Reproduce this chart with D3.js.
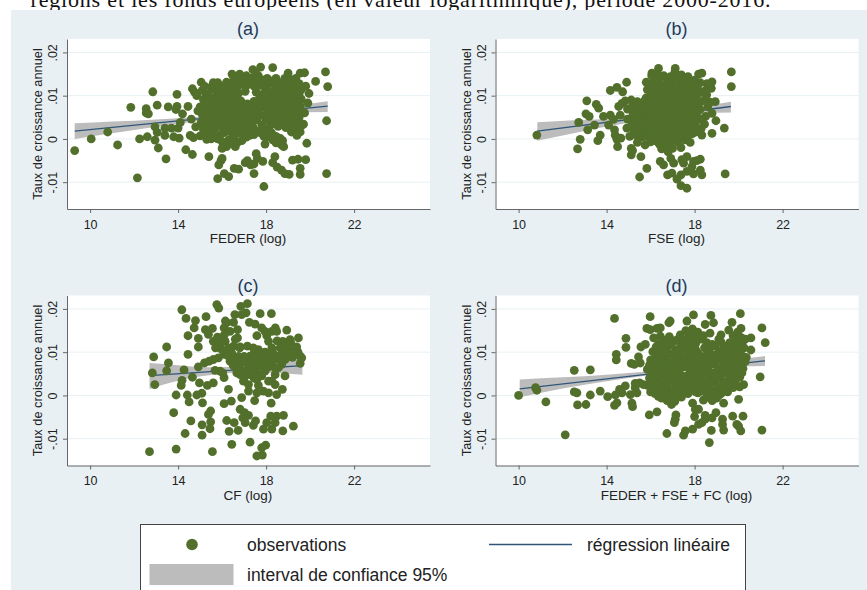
<!DOCTYPE html>
<html>
<head>
<meta charset="utf-8">
<script src="https://d3js.org/d3.v7.min.js"></script>
<style>
html, body { margin: 0; padding: 0; background: #fff; }
svg { display: block; }
text { font-family: "Liberation Sans", Arial, sans-serif; }
</style>
</head>
<body>
<svg width="867" height="590"></svg>
<script>
const svg = d3.select("svg");

// x = log of funds, y = annual growth rate in thousandths
const pointsA = [[9.3,-2.7],[10.05,0],[10.8,1.6],[11.25,-1.4],[11.85,7.3],[12.15,-9],[12.25,0],[12.6,0.5],[12.55,7],[12.55,6],[12.65,5.8],[12.85,10.9],[13.05,7.8],[12.95,2.8],[13.05,1.5],[12.95,-0.3],[13.1,-2.1],[13.45,-4.6],[13.4,2.5],[13.4,0.8],[13.55,7.4],[13.7,2.5],[13.8,0.5],[13.95,10.3],[13.95,7.5],[13.9,6.8],[14,2.5],[14.1,3.8],[14.05,0.2],[14.35,-2.5],[14.2,5.8],[14.45,7.5],[14.65,-3.6],[14.55,0.8],[14.7,0.3],[14.65,11.6],[14.75,10.8],[14.85,10],[14.9,6.5],[14.6,4.6],[14.8,2.8],
  [15.4,-4.1],[15.8,-9.2],[15.85,-6],[15.95,-5],[16,-4.5],[16.1,-8],[16.3,-8.7],[16.55,-6.8],[16.75,-7],[17.05,-5.5],[17.15,-5],[17.3,-6],[17.45,-8],[17.45,-5.8],[17.55,-3.4],[17.6,-4.5],[17.85,-5.2],[17.9,-11],[18.3,-5.5],[18.4,-4.1],[18.5,-6.5],[18.7,-7.2],[18.85,-8],[19.05,-8.2],[19.2,-4.9],[19.45,-4.7],[19.55,-6.8],[19.55,-8.2],[19.8,-4.8],[20.75,-8],[19.85,-1],[20.75,4.2],[20.8,12.1],[20.7,15.5],[20.25,13.3],[19.95,10.5],[19.9,8.3],[19.75,15.3],[19.55,15.2],[19,15.2],
  [15.05,13.1],[15.1,11.2],[15.15,9.1],[15,7.4],[15.1,5.6],[15.05,3.8],[15.15,2.2],[15,0.7],[15.35,10.4],[15.4,8.2],[15.3,6.4],[15.45,4.7],[15.35,3],[15.4,1.2],[15.3,-0.1],[15.6,13],[15.65,11.4],[15.6,9.5],[15.7,7.3],[15.55,5.7],[15.7,3.9],[15.6,2.1],[15.65,0.3],[15.9,12.3],[15.95,10.2],[15.85,8.4],[15.95,6.5],[15.85,4.7],[16,2.9],[15.9,1],[16,-0.6],[16,-2.2],[16.2,13.1],[16.25,11],[16.15,9.2],[16.3,7.4],[16.2,5.5],[16.25,3.6],[16.15,1.6],[16.3,-0.2],[16.2,-1.8],[16.45,15],[16.5,13.4],[16.55,11.4],[16.45,9.8],[16.55,8],[16.45,6.2],[16.6,4.4],[16.5,2.4],[16.55,0.6],[16.6,-1.8],[16.8,15],[16.85,12.6],[16.75,10.6],[16.85,8.8],[16.8,6.6],[16.9,4.9],[16.75,3],[16.85,1.3],[16.9,-0.4],[17.1,14.6],[17.15,12.5],[17.05,11],[17.15,8.1],[17.05,6.4],[17.15,4.6],[17.05,2.6],[17.1,0.4],[17.4,16],[17.35,14.1],[17.45,12.2],[17.55,10.8],[17.45,8.7],[17.35,7],[17.5,5.2],[17.3,2],[17.45,1],[17.75,16.6],[17.65,14.6],[17.75,12.4],[17.7,9.4],[17.8,7.3],[17.7,5.6],[17.8,3.2],[17.75,1.4],[18.05,14],[18,11.8],[18.1,9.6],[18,8],[18.1,6.2],[18,4.4],[18.1,2],[18,0.4],[17.95,-1.2],[18.3,16.5],[18.3,13.4],[18.35,11.1],[18.25,9.2],[18.35,7.2],[18.3,5.2],[18.35,3.6],[18.25,1.4],[18.3,-0.2],[18.6,12.3],[18.55,10.4],[18.65,8.6],[18.55,6.6],[18.6,4.7],[18.55,2.9],[18.45,-0.9],[18.65,0.1],[18.7,-1.4],[18.85,14],[18.9,12],[18.85,10],[18.95,8.2],[18.85,6.2],[18.95,4.4],[18.9,2.6],[18.8,-1.8],[19.05,13.9],[19.1,13.3],[19.15,11.3],[19.05,9.4],[19.15,7.4],[19.1,5.6],[19.05,3.6],[19.15,1.6],[19.35,14],[19.35,11.8],[19.4,9.8],[19.3,8],[19.4,6],[19.3,4.4],[19.35,2.4],[19.4,0.8],[19.6,11.4],[19.6,9.2],[19.55,7.6],[19.6,3],[19.55,1.6],[19.8,12.2],[19.75,6],[19.7,3.4],
  [15.2,12.2],[15.25,9.6],[15.2,7.4],[15.2,4.8],[15.25,3.2],[15.2,1],[15.5,12],[15.5,9.2],[15.5,7],[15.55,3.6],[15.5,1.6],[15.5,0],[15.8,13],[15.8,10.8],[15.75,9],[15.8,6.2],[15.75,2.8],[15.8,0],[16.05,11.6],[16.1,8],[16.05,5.6],[16.1,3.8],[16.05,1.4],[16.1,-1.2],[16.35,12.2],[16.4,8.6],[16.35,6.6],[16.35,4.6],[16.4,1.6],[16.4,-1],[16.65,14],[16.7,12.2],[16.65,9.4],[16.65,7.2],[16.7,5.4],[16.65,3.2],[16.7,1.4],[16.7,-0.8],[16.95,13.8],[16.95,7.4],[17,5.4],[16.95,3.6],[17,1.4],[17.25,13],[17.25,7.6],[17.25,5.6],[17.25,3.4],[17.25,0.8],[17.55,15],[17.6,13.2],[17.6,8],[17.6,6.4],[17.6,4.4],[17.55,1.8],[17.9,13.6],[17.9,10.6],[17.9,8.8],[17.9,5.4],[17.9,2.4],[17.9,0.6],[18.15,12.8],[18.2,10.6],[18.2,8],[18.2,5.6],[18.2,3.2],[18.2,0.6],[18.45,14],[18.45,12],[18.45,9.6],[18.45,7.8],[18.45,5.6],[18.45,3.8],[18.45,0.6],[18.75,13],[18.75,11],[18.75,9.2],[18.75,7.2],[18.75,5.4],[18.75,3.6],[18.75,-0.4],[19,10.8],[19,8.6],[19,6.6],[19,4.8],[19,2.8],[19.25,12.6],[19.25,10.6],[19.25,8.8],[19.25,6.6],[19.25,4.8],[19.25,3],[19.5,12.8],[19.5,10.4],[19.5,8.4],[19.5,5],[19.5,3.8],[19.65,6.4],
  [15.25,5.8],[15.3,8.8],[15.45,6],[15.5,4.6],[15.4,2.4],[15.65,4.8],[15.65,6.6],[15.6,8.4],[15.9,3.6],[15.9,7.4],[15.85,5.8],[16.2,6.6],[16.15,4.6],[16.2,2.6],[16.45,3.4],[16.45,5],[16.5,7.2],[16.75,4.4],[16.8,7.8],[16.6,10.4],[17.2,6.8],[17.4,4.2],[17.4,2.8],[17.7,7.8],[18.15,7],[18.15,4.4],[18.4,4.6],[18.4,6.6],[18.7,5.2],[18.85,7.6],[19.2,7.4],[19.2,9.6],[19.45,6.8],[19,9.8]];

const pointsB = [[10.83,0.9],[12.73,3.8],[12.68,-2.3],[12.8,-0.1],[13.1,8.8],[13.06,5.8],[13.21,5.2],[13.14,2.1],[13.45,3.2],[13.53,8],[13.64,7.1],[13.6,-0.4],[13.71,0.9],[13.86,5.2],[14.17,11.2],[14.17,5.5],[14.09,3.2],[14.32,4.5],[14.47,11.9],[14.73,10.9],[14.91,13.1],[14.36,2.1],[14.39,0.9],[14.47,-0.1],[14.65,0.2],[14.5,-1.8],[14.7,8.2],[14.55,7.5],[14.62,5.5],[14.92,2.5],[15.12,9],[15.12,-2.2],[15.12,-3.7],[15.18,-2.7],[15.5,-8.8],[15.56,-4.1],[15.83,-6.8],[16.36,16.3],[16.06,15.2],[16.44,-5.2],[16.59,-6],[16.77,-8.3],[16.92,-4.5],[17.05,-5.6],[17.12,16.3],[17.2,-9.3],[17.38,-10.8],[17.65,-11.4],[16.97,-7.9],[17.38,-8.3],[17.65,-7.5],[17.5,-5.6],[17.65,-4.1],[17.42,-4.8],[17.95,-5.2],[18.26,-4.7],[18.1,-5],[17.88,-6.4],[17.95,-8.1],[18.26,-7.2],[18.33,-8.3],[19.39,-8.1],[19.67,15.5],[19.67,12.1],[19.35,2.5],[18.79,1.3],[18.97,4.2],[18.79,5.9],[18.94,8.6],[18.33,0.9],[17.8,-0.8],[17.38,-2],[18.33,15.2],[18.18,15],[18.79,13.2],[18.56,12.8],[18.76,11.7],[18.7,8.5],[18.55,10.2],[18.6,7.4],[18.5,5.2],[18.45,3.4],
  [14.85,8.8],[14.95,6.9],[14.95,4.6],[15.05,0.6],[15.15,7.4],[15.2,5.6],[15.15,3.8],[15.25,2],[15.4,8.6],[15.35,6.6],[15.45,4.8],[15.35,2.9],[15.45,1.1],[15.4,-0.8],[15.6,7.6],[15.7,5.8],[15.6,3.8],[15.7,2],[15.6,0.4],[15.75,-1.4],[15.8,13.1],[15.85,11.4],[15.8,9.5],[15.9,7.8],[15.95,6.2],[15.85,4.4],[15.95,2.8],[15.9,1],[16,-0.7],[16.05,14.6],[16.1,12.9],[16.15,11.1],[16.05,9.3],[16.2,7.4],[16.1,5.6],[16.2,3.6],[16.15,1.8],[16.2,0.2],[16.3,15],[16.35,13],[16.4,11.2],[16.3,9.4],[16.45,7.8],[16.35,6],[16.45,4.2],[16.35,2.4],[16.45,0.6],[16.4,-1.2],[16.5,-2.3],[16.6,14.6],[16.7,12.8],[16.6,11],[16.7,9],[16.6,7.2],[16.7,5.4],[16.6,3.6],[16.7,1.8],[16.65,0],[16.7,-1.7],[16.8,-3],[16.9,14.4],[16.95,12.4],[16.85,10.4],[16.95,8.4],[16.85,6.6],[16.95,4.8],[16.85,3],[16.95,1.2],[16.9,-0.6],[17,-2.2],[17.1,15.4],[17.2,13.8],[17.15,11.8],[17.25,9.9],[17.1,8],[17.2,6],[17.1,4.2],[17.2,2.4],[17.15,0.6],[17.25,-0.8],[17.4,14.8],[17.45,12.8],[17.4,10.8],[17.5,8.8],[17.4,7],[17.5,5.2],[17.4,3.4],[17.5,1.4],[17.55,-0.2],[17.7,14.4],[17.7,12.2],[17.75,10],[17.7,8],[17.8,6.2],[17.7,4.2],[17.75,2.2],[17.7,0.8],[18,13.6],[18,11.6],[18.05,9.4],[17.95,7.4],[18.05,5.4],[18,3.2],[18.05,1.6],[18.25,13],[18.3,10.8],[18.3,8.6],[18.25,6.8],[18.3,4.6],[18.3,2.4],[18.5,11.2],[18.45,9],
  [15.25,6.4],[15.3,4.6],[15.3,2.9],[15.3,1],[15.5,8],[15.5,5.8],[15.5,3],[15.5,0.4],[15.75,9],[15.75,6.8],[15.75,4.8],[15.75,3],[15.75,0.6],[16,12],[16,9.8],[16,6.8],[16,5],[16,3.4],[16,1.6],[16,0],[16.2,13.6],[16.25,12],[16.25,10],[16.25,8.4],[16.3,6.4],[16.25,4.6],[16.3,2.8],[16.3,1],[16.3,-0.6],[16.5,14.4],[16.5,12],[16.55,10],[16.5,8.4],[16.55,6.4],[16.55,4.8],[16.55,2.6],[16.55,0.8],[16.55,-1],[16.8,13.8],[16.8,11.6],[16.8,9.6],[16.8,7.6],[16.8,5.6],[16.8,3.8],[16.8,2],[16.8,0.4],[16.8,-1.4],[17.05,13.6],[17.05,10.8],[17.05,9.2],[17.05,7],[17.05,5.2],[17.05,3.2],[17.05,1.6],[17.05,-0.2],[17.3,14.6],[17.3,12],[17.3,9.8],[17.3,8],[17.3,6],[17.3,4.4],[17.3,2.6],[17.3,0.8],[17.55,13.6],[17.55,11.6],[17.6,9.6],[17.6,7.6],[17.6,6],[17.6,4.2],[17.6,2.4],[17.85,13.2],[17.85,11],[17.85,8.8],[17.85,7],[17.85,5],[17.85,3.2],[17.9,1.2],[18.15,12.4],[18.15,10.4],[18.15,8.4],[18.15,6.4],[18.15,4.4],[18.15,2.4]];

const pointsC = [[12.7,-13],[12.83,5.2],[12.89,8.9],[12.94,2.5],[13.48,11.2],[13.56,7.5],[13.48,5.7],[13.8,-4],[13.91,0.1],[13.91,-12.4],[14.17,19.8],[14.36,17.8],[14.45,13.8],[14.45,9.5],[14.27,5.9],[14.18,3.5],[14.14,2.3],[14.32,-8.8],[14.42,0.1],[14.5,-1.5],[14.58,-5.9],[14.65,4.2],[14.79,17.3],[14.73,15.6],[14.92,13.2],[14.92,11.2],[14.92,6.6],[14.97,2.9],[15.08,0.5],[14.85,0.1],[15.11,-1.7],[15.09,-6.8],[15.09,-9.2],[15.27,18.2],[15.24,15.2],[15.38,14.1],[15.56,15.5],[15.6,12.5],[15.2,7.5],[15.41,7.9],[15.6,8.3],[15.33,2.3],[15.6,2.9],[15.38,-4.4],[15.48,-3.6],[15.48,-6.1],[15.45,-7.7],[15.56,-13],[15.76,21],[15.85,20.2],[15.79,13.5],[15.91,11.8],[15.83,8.7],[15.68,5.8],[15.91,5.6],[16.09,4.1],[16.03,5.2],[16.09,-1.9],[16.42,-1.3],[16.29,1.4],[16.21,-5.8],[16.32,-8.3],[16.44,-11.3],[16.15,17.2],[16.09,15.6],[16.21,16.8],[16.58,18.7],[16.52,16.9],[16.36,14.8],[16.14,12.5],[16.29,11],[16.44,9.8],[16.59,8.3],[16.36,7.9],[16.74,6.8],[16.67,5.2],[16.89,-0.5],[16.55,-6.3],[16.73,-8.1],[16.85,20.6],[17.15,21.2],[17.09,19.1],[16.89,18.7],[16.7,15.2],[16.7,13.3],[16.52,11.4],[16.82,11.2],[16.97,5.6],[16.82,4.8],[16.97,3.3],[17.2,1],[16.82,-3.2],[17.02,-4],[17.2,-4.6],[16.94,-5.2],[17.48,-1.2],[17.27,-10.8],[17.58,-14],[17.83,-13.8],[17.8,-12.1],[17.98,-11.5],[17.73,18.9],[18.24,18.9],[17.24,16.9],[17.5,16.5],[17.8,15.6],[17.95,14.8],[17.58,13.8],[18.03,13.8],[17.15,11.4],[17.42,11],[17.65,10.6],[17.88,9.1],[17.27,9.1],[17.5,7.5],[17.12,7.5],[17.35,6.4],[17.73,6.8],[17.95,5.6],[17.58,5.2],[17.27,4.8],[17.58,3.7],[17.8,4.5],[18.11,3.3],[18.41,4.8],[18.26,3.3],[18.41,2.5],[17.2,2.5],[17.65,2.3],[17.88,1],[18.11,0.6],[17.58,0.6],[18.48,0.2],[18.74,1.4],[18.23,-1.8],[17.52,-5.9],[17.42,-6.9],[18.03,-6.3],[17.88,-7.8],[18.26,-7.8],[18.48,-4.8],[18.79,-4.6],[18.41,-6.3],[18.76,-8.2],[19.24,-7.1],[18.21,-4.8],[18.42,15.6],[18.26,14.8],[18.48,14.8],[18.94,15.1],[18.11,12.5],[18.26,11],[18.64,11],[18.76,12.5],[19.09,12.9],[19.47,13.3],[18.94,10.6],[19.24,10.2],[19.39,11.2],[19.55,9.1],[19.62,8.7],[19.55,7.4],[18.86,4.5],[18.48,9.1],[18.86,8.3],[18.71,7.2],[18.33,8.3],[18.56,6.4],[19.12,12.2],[19.09,9.5],[17.05,-6.3],[17,9],[16.9,7.6],[17.4,5.5],[17.6,4.4],[17,4],[16.6,6.4],[17.9,7.4],[16.4,8.8],[16.1,9.5],[16,10.5],[15.7,11],[15.95,13],[16.1,14],[18.9,8.6],[19.2,8.8],[19,11.5],[18.7,9.5],[17.95,10],[18.1,9],[18.3,10],[16.6,13],[16.8,11],
  [17.3,7.6],[17.7,8.2],[17.2,6],[17.45,4],[17.1,5],[17.4,9.4],[18.15,8],[18.6,8.4],[18.9,11.8],[19.3,9.4],[18.5,12.6],[16.3,9],[16.75,9],[16.5,7],[17.65,9],[18.1,6.6],[18.35,6.6],[19.45,10]];

const pointsD = [[10,0],[10.77,1.8],[10.83,1.2],[11.24,-1.5],[12.12,-9.1],[12.53,5.8],[12.53,0.8],[12.65,0.6],[12.68,-2.2],[13.06,-2.1],[13.26,5.9],[13.26,0.1],[13.71,1],[14.05,-0.3],[14.36,17.8],[14.44,9.5],[14.44,8.2],[14.88,13.2],[14.88,11.1],[14.36,-2.3],[14.47,-1.7],[14.4,0.1],[14.59,1.4],[14.85,2.2],[14.7,0.6],[15.15,-1.8],[15.18,-2.6],[15.08,0.2],[15.38,0.6],[15.3,1.8],[15.5,2.9],[15.3,2.8],[15.68,2.5],[15.12,7.4],[15.45,8.9],[15.26,7.2],[15.53,7.5],[15.56,11.2],[15.76,11.8],[15.83,15.5],[15.98,18.2],[15.94,-4.5],[16.29,-3.8],[15.98,15.2],[16.29,15.5],[16.44,15.6],[16.14,13.3],[16.44,13.7],[16.89,17.2],[16.83,16.8],[17.15,-4.5],[17.12,-5.5],[17.08,-6.3],[16.74,-8.8],[17.5,-9.2],[17.58,-8.2],[17.91,-7.8],[17.65,17.2],[17.95,18.6],[18.03,-3.2],[18.18,-3.2],[18,-4.9],[18.18,-6.7],[18.33,-6.3],[18.48,-5.5],[18.48,-4.6],[18.79,-5.2],[18.97,-4],[18.76,-8.1],[18.67,-10.9],[19.27,-5.5],[19.27,-6.7],[19.32,-8],[19.73,-4.8],[19.92,-6.7],[20,-7.1],[20.1,-8.2],[20.2,-4.8],[21.06,-8],[20.98,4.3],[21.21,12.2],[21.06,15.6],[20.56,13.3],[20.56,10.5],[20.08,18.9],[19.7,16.9],[20.11,15.5],[19.55,15.1],[18.74,18.5],[18.48,16.4],[18.86,16.8],[20,-0.9],[20.23,2.5],[17.91,-1.8],[19.32,-1.8],
  [15.85,6],[15.95,4],[15.85,2.3],[16,0.8],[16,8.2],[16.1,10.1],[16.15,6.4],[16.2,4.4],[16.1,2.6],[16.2,0.4],[16.35,11.8],[16.4,9.6],[16.35,7.8],[16.45,5.8],[16.35,3.7],[16.45,1.8],[16.35,-0.2],[16.6,12.8],[16.65,10.6],[16.55,8.6],[16.65,6.8],[16.55,4.8],[16.65,2.8],[16.55,0.8],[16.85,13.6],[16.9,11.6],[16.8,9.6],[16.9,7.4],[16.8,5.6],[16.9,3.6],[16.8,1.6],[16.85,-0.6],[16.95,-2.1],[17.1,12.6],[17.15,10.6],[17.1,8.6],[17.15,6.4],[17.05,4.6],[17.15,2.6],[17.05,0.6],[17.1,-1.4],[17.35,14],[17.4,11.6],[17.3,9.6],[17.4,7.6],[17.3,5.4],[17.4,3.6],[17.3,1.4],[17.4,-0.4],[17.6,15],[17.65,13],[17.6,10.8],[17.7,8.6],[17.6,6.6],[17.7,4.6],[17.6,2.4],[17.7,0.4],[17.9,15.4],[17.95,13.4],[17.85,11.4],[17.95,9.4],[17.85,7.4],[17.95,5.4],[17.85,3.4],[17.95,1.4],[18.15,14.6],[18.15,9.8],[18.2,7.8],[18.1,6],[18.2,4],[18.1,2.2],[18.15,0.6],[18.4,13.8],[18.45,11],[18.4,8.8],[18.45,6.8],[18.35,4.8],[18.45,2.8],[18.35,1.2],[18.4,-1.1],[18.7,14.4],[18.65,10.4],[18.7,8.2],[18.6,6.2],[18.7,4.2],[18.65,2.2],[18.7,0.2],[18.8,-1.2],[18.95,11.4],[18.95,9.2],[18.9,7.2],[19,5.2],[18.9,3.2],[18.95,1.2],[19,-0.6],[19.2,14],[19.2,12.4],[19.25,10.2],[19.2,8.2],[19.25,6.2],[19.15,4.2],[19.25,2.2],[19.2,0.4],[19.45,11.2],[19.5,9.2],[19.45,7.2],[19.5,5.2],[19.4,3.2],[19.5,0.8],[19.75,13.8],[19.7,11.8],[19.75,9.8],[19.7,7.8],[19.75,5.8],[19.7,3.6],[19.75,1.8],[19.95,14.6],[20,12.4],[19.95,10.4],[20,8.4],[19.95,6.2],[20.05,4.2],[20.05,2],[20.2,12.6],[20.25,11],[20.2,9],[20.3,7.8],[20.2,6.2],
  [15.95,7],[16.05,5.2],[16.05,3.2],[16.05,1.6],[16.25,11.2],[16.25,9],[16.3,7],[16.3,5.2],[16.25,3],[16.3,1.2],[16.5,11],[16.5,8.6],[16.5,6.8],[16.55,5],[16.5,2.8],[16.5,0.8],[16.5,-0.6],[16.75,12],[16.75,10],[16.75,8],[16.75,6.2],[16.75,4.2],[16.75,2.4],[16.75,0.4],[16.75,-1.2],[17,12.6],[17,9.6],[17,7.6],[17,5.6],[17,3.4],[17,1.4],[17,-0.4],[17.25,13],[17.25,10.6],[17.25,8.6],[17.25,6.6],[17.25,4.4],[17.25,2.6],[17.25,0.4],[17.5,12.8],[17.5,10.6],[17.5,8.6],[17.5,6.6],[17.5,4.4],[17.5,2.6],[17.5,0.6],[17.75,14],[17.75,12],[17.75,9.8],[17.8,7.6],[17.8,5.6],[17.8,3.4],[17.8,1.4],[18.05,14],[18.05,12],[18.05,10.6],[18.05,8.4],[18.05,6.4],[18.05,4.4],[18.05,2.6],[18.05,0.8],[18.3,13],[18.3,9],[18.3,7.2],[18.3,5.2],[18.3,3.2],[18.3,1],[18.55,12.2],[18.55,9.4],[18.55,7.4],[18.55,5.4],[18.55,3.2],[18.55,1.4],[18.55,-0.4],[18.8,11.8],[18.8,9.4],[18.85,7.4],[18.85,5.2],[18.85,3.2],[18.85,1],[19.1,10.2],[19.1,8.2],[19.1,6.2],[19.1,4],[19.1,2],[19.1,0],[19.1,13],[19.35,11.4],[19.35,9.2],[19.35,7.2],[19.35,5.2],[19.35,3],[19.35,1],[19.6,12.2],[19.6,10.2],[19.6,8.2],[19.6,6.2],[19.6,4.2],[19.6,2.2],[19.85,12.8],[19.85,10.8],[19.85,8.6],[19.85,6.8],[19.85,4.8],[19.85,2.8],[20.1,13.4],[20.1,11.4],[20.1,9.4],[20.1,7.2],[20.15,5.2],[20.35,8.8],[20.3,13]];

// regression line end points [x, y] and confidence band rows [x, low, high]
const lineA = [[9.3,1.8],[20.8,7.6]];
const lineB = [[10.85,1.8],[19.65,7.5]];
const lineC = [[12.7,4.6],[19.65,6.9]];
const lineD = [[10.05,1.5],[21.2,8]];
const bandA = [[9.3,0,3.6],[11,1.3,4],[13,2.8,4.5],[15,4.15,5.15],[17,5.25,6.1],[19,6,7.4],[20.8,6.2,8.7]];
const bandB = [[10.85,-0.45,3.85],[12.5,1.3,4.3],[14,2.9,4.6],[15.5,4.1,5.1],[17,5.3,6.3],[18.5,6,7.7],[19.65,6.1,8.6]];
const bandC = [[12.7,1.5,7.5],[14,3.4,7],[15.5,4.7,6.5],[17,5.3,6.8],[18.5,5.1,7.8],[19.65,4.8,8.7]];
const bandD = [[10.05,-0.4,3.7],[12,1.6,4.2],[14,3.3,4.8],[16,4.7,5.6],[18,5.9,6.7],[20,6.7,8.3],[21.2,6.8,9.1]];

const xTicks = [10, 14, 18, 22];
const yTicks = [-10, 0, 10, 20];
const yTickLabels = ["-.01", "0", ".01", ".02"];
const panelNames = ["(a)", "(b)", "(c)", "(d)"];
const xTitles = ["FEDER (log)", "FSE (log)", "CF (log)", "FEDER + FSE + FC (log)"];
const yTitle = "Taux de croissance annuel";

const green = "#52702b", navy = "#2f5679", bandGray = "#bcbcbc";

// sentence cut off by the figure, from the page above
svg.append("text")
   .attr("x", 30.5)
   .attr("y", 7)
   .style("font-family", "'Liberation Serif', serif")
   .style("font-size", "22px")
   .attr("textLength", 740)
   .attr("fill", "#111")
   .text("régions et les fonds européens (en valeur logarithmique), période 2000-2016.");

svg.append("rect")
   .attr("x", 11).attr("y", 10)
   .attr("width", 856).attr("height", 580)
   .attr("fill", "#e8f0f3");

function drawPanel(i, left, top, points, regLine, band) {
   const w = 363, h = 170;
   const x = d3.scaleLinear().domain([8.95, 25.45]).range([left, left + w]);
   const y = d3.scaleLinear().domain([-16.2, 23.1]).range([top + h, top]);

   svg.append("rect")
      .attr("x", left).attr("y", top)
      .attr("width", w).attr("height", h)
      .attr("fill", "#fff");

   // grid
   svg.append("g").selectAll("line")
      .data(yTicks)
      .join("line")
      .attr("x1", left).attr("x2", left + w)
      .attr("y1", d => y(d)).attr("y2", d => y(d))
      .attr("stroke", "#e8f0f3")
      .attr("stroke-width", 1);

   // confidence band, regression line, then the dots above them
   svg.append("path")
      .datum(band)
      .attr("d", d3.area().x(d => x(d[0])).y0(d => y(d[1])).y1(d => y(d[2])).curve(d3.curveMonotoneX))
      .attr("fill", bandGray);
   svg.append("path")
      .datum(regLine)
      .attr("d", d3.line().x(d => x(d[0])).y(d => y(d[1])))
      .attr("fill", "none")
      .attr("stroke", navy)
      .attr("stroke-width", 1.3);
   svg.append("g").selectAll("circle")
      .data(points)
      .join("circle")
      .attr("cx", d => x(d[0]))
      .attr("cy", d => y(d[1]))
      .attr("r", 4.4)
      .attr("fill", green);

   const xAxis = svg.append("g")
      .attr("transform", `translate(0,${top + h})`)
      .call(d3.axisBottom(x).tickValues(xTicks).tickSize(4).tickSizeOuter(0));
   const yAxis = svg.append("g")
      .attr("transform", `translate(${left},0)`)
      .call(d3.axisLeft(y).tickValues(yTicks).tickFormat((d, k) => yTickLabels[k]).tickSize(4).tickSizeOuter(0));
   [xAxis, yAxis].forEach(a => {
      a.selectAll("path, line").attr("stroke", "#666").attr("stroke-width", 1);
      a.selectAll("text").attr("fill", "#222").style("font-size", "12.5px");
   });
   xAxis.selectAll("text").attr("y", 11);
   yAxis.selectAll("text")
      .attr("transform", "rotate(-90,-14,0)")
      .attr("x", -14)
      .attr("y", 0)
      .attr("dy", "0.35em")
      .attr("text-anchor", "middle");

   // the panel title sits at the middle of the whole cell, not of the plot
   svg.append("text")
      .attr("x", left + 181)
      .attr("y", top - 4)
      .attr("text-anchor", "middle")
      .attr("font-size", "18px")
      .attr("fill", "#1f3a5c")
      .text(panelNames[i]);
   svg.append("text")
      .attr("x", left + 181)
      .attr("y", top + h + 34)
      .attr("text-anchor", "middle")
      .attr("font-size", "13.5px")
      .attr("fill", "#222")
      .text(xTitles[i]);
   svg.append("text")
      .attr("transform", `translate(${left - 25},${top + 85}) rotate(-90)`)
      .attr("text-anchor", "middle")
      .attr("font-size", "12.8px")
      .attr("fill", "#222")
      .text(yTitle);
}

drawPanel(0, 67, 39, pointsA, lineA, bandA);
drawPanel(1, 495.5, 39, pointsB, lineB, bandB);
drawPanel(2, 67, 295.5, pointsC, lineC, bandC);
drawPanel(3, 495.5, 295.5, pointsD, lineD, bandD);

// legend, runs off the bottom of the picture
svg.append("rect")
   .attr("x", 140.5).attr("y", 524.5)
   .attr("width", 605).attr("height", 80)
   .attr("fill", "#fff")
   .attr("stroke", "#444")
   .attr("stroke-width", 1);
svg.append("circle")
   .attr("cx", 192).attr("cy", 544.5).attr("r", 5.8)
   .attr("fill", green);
svg.append("line")
   .attr("x1", 489).attr("x2", 572)
   .attr("y1", 544.5).attr("y2", 544.5)
   .attr("stroke", navy)
   .attr("stroke-width", 1.5);
svg.append("rect")
   .attr("x", 149.5).attr("y", 564)
   .attr("width", 84).attr("height", 21)
   .attr("fill", bandGray);
const legendText = [[247, 551, "observations"], [587, 551, "régression linéaire"], [247, 581, "interval de confiance 95%"]];
svg.append("g").selectAll("text")
   .data(legendText)
   .join("text")
   .attr("x", d => d[0])
   .attr("y", d => d[1])
   .attr("font-size", "17.5px")
   .attr("fill", "#222")
   .text(d => d[2]);
</script>
</body>
</html>
